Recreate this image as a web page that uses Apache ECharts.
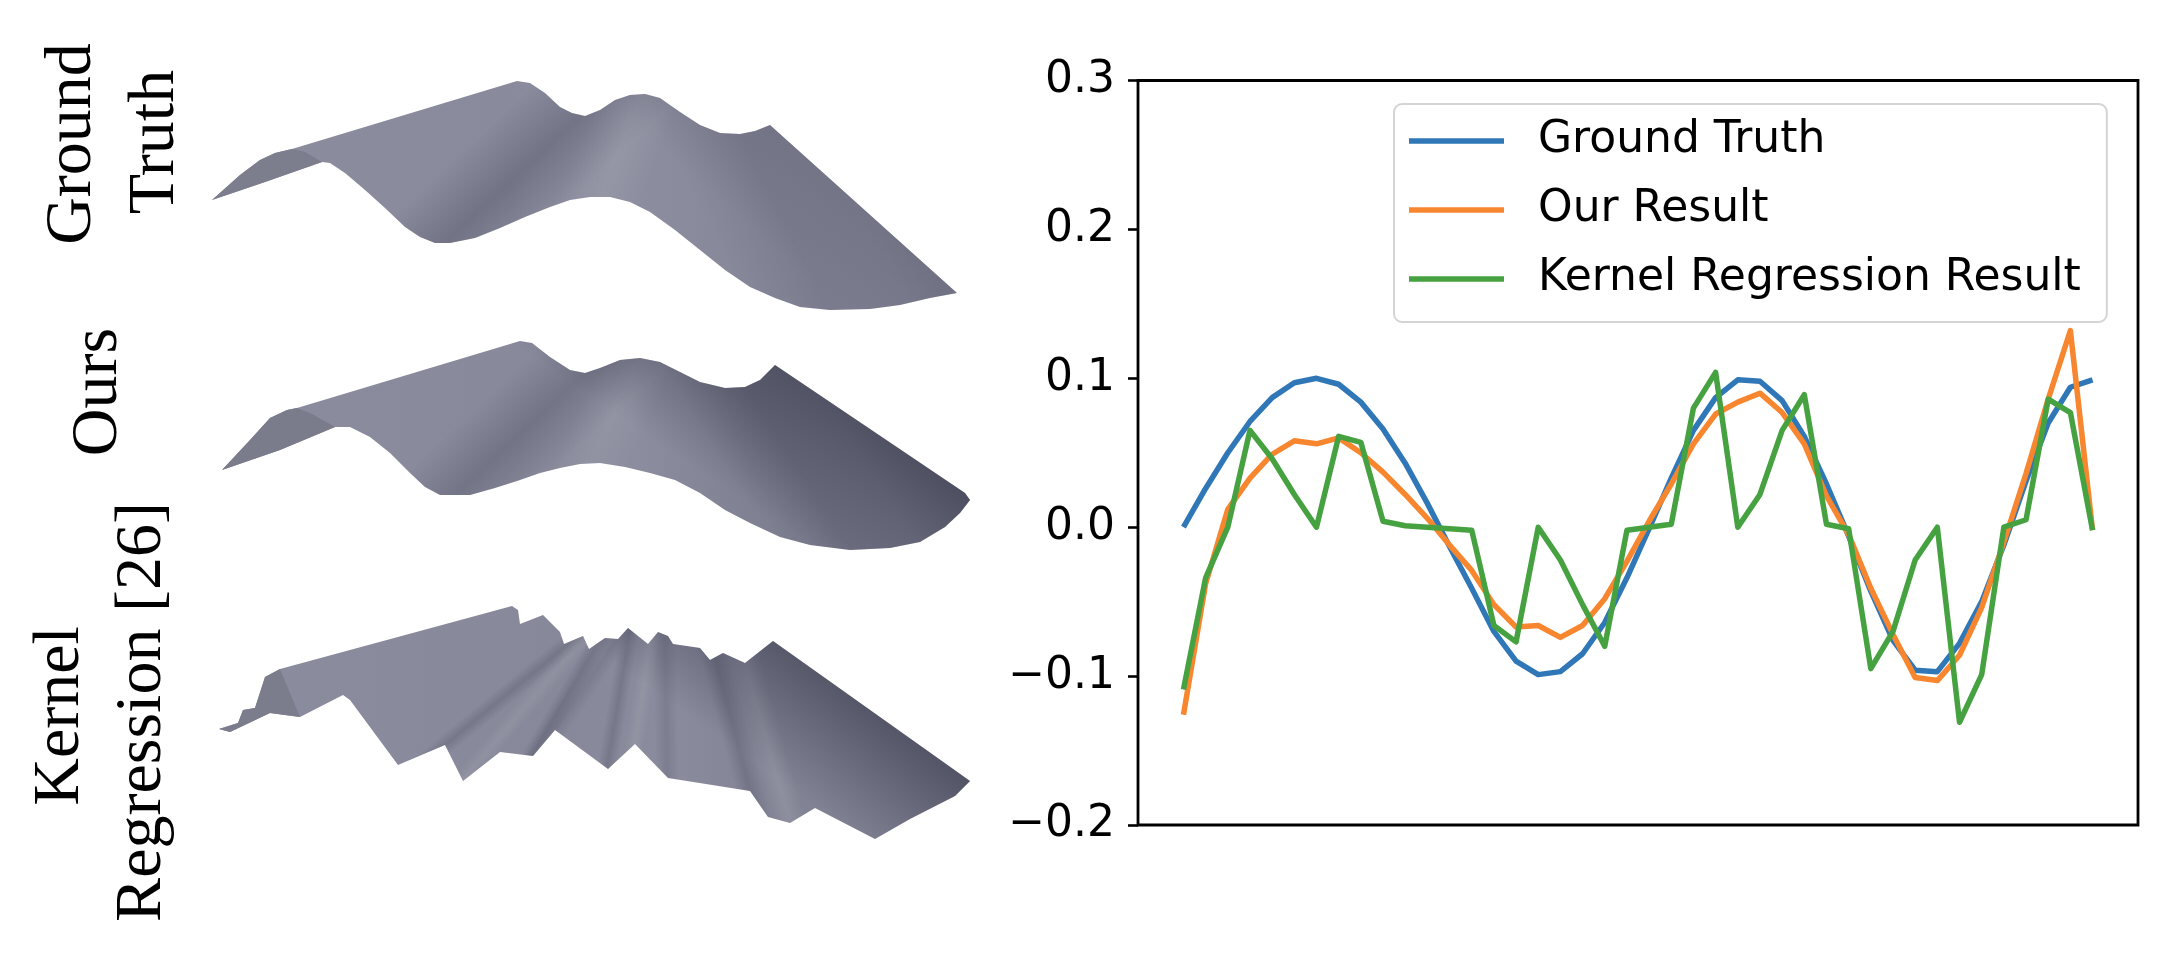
<!DOCTYPE html>
<html>
<head>
<meta charset="utf-8">
<script src="https://cdn.jsdelivr.net/npm/echarts@6/dist/echarts.min.js"></script>
<style>
html,body{margin:0;padding:0;background:#fff;}
#main{width:2181px;height:960px;}
</style>
</head>
<body>
<div id="main"></div>
<script>
// ---------------- DATA ----------------
const sampleIndex = [0,1,2,3,4,5,6,7,8,9,10,11,12,13,14,15,16,17,18,19,20,21,22,23,24,25,26,27,28,29,30,31,32,33,34,35,36,37,38,39,40,41];
const groundTruth = [0.000,0.026,0.050,0.071,0.087,0.097,0.100,0.096,0.084,0.066,0.043,0.016,-0.013,-0.041,-0.070,-0.090,-0.099,-0.097,-0.085,-0.064,-0.034,-0.001,0.033,0.065,0.087,0.099,0.098,0.085,0.061,0.029,-0.006,-0.043,-0.076,-0.096,-0.097,-0.078,-0.050,-0.012,0.031,0.070,0.094,0.099];
const ourResult = [-0.126,-0.038,0.012,0.033,0.049,0.058,0.056,0.060,0.050,0.037,0.022,0.006,-0.012,-0.029,-0.052,-0.067,-0.066,-0.074,-0.066,-0.048,-0.023,0.004,0.029,0.056,0.076,0.084,0.090,0.077,0.056,0.021,-0.005,-0.041,-0.072,-0.101,-0.103,-0.086,-0.054,-0.010,0.036,0.086,0.132,-0.002];
const kernelResult = [-0.109,-0.034,0.000,0.065,0.046,0.022,0.000,0.061,0.057,0.004,0.001,0.000,-0.001,-0.002,-0.066,-0.077,0.000,-0.022,-0.052,-0.080,-0.002,0.000,0.002,0.080,0.104,0.000,0.022,0.065,0.089,0.002,-0.001,-0.095,-0.070,-0.022,0.000,-0.131,-0.099,0.000,0.005,0.086,0.077,-0.002];
const seriesNames = ['Ground Truth','Our Result','Kernel Regression Result'];
const yTicks = [-0.2,-0.1,0.0,0.1,0.2,0.3];
const panelLabels = [['Ground','Truth'],['Ours'],['Kernel','Regression [26]']];

// ---------------- LAYOUT / STYLE (illustration) ----------------
const colors = ['#2f77b6','#f7862f','#46a240'];
const labelLayout = [
  {x:[73,156], y:[144,142]},
  {x:[99], y:[392]},
  {x:[61,143], y:[716,712]}
];
// stripe: [p0, p1, halfWidth, rgb, alpha]
const surfaceLayouts = [
  { // ground truth surface
    outline:[[212,200],[240,175],[260,160],[275,153],[292,149],[517,81],[530,83],[545,93],[560,107],[572,113],[585,116],[600,110],[615,100],[630,95],[645,94],[660,98],[680,112],[700,125],[720,133],[740,134],[755,131],[770,125],[957,293],[930,298],[900,305],[870,309],[830,310],[800,307],[775,298],[750,287],[725,270],[700,250],[675,230],[650,212],[630,202],[610,197],[590,197],[570,200],[550,207],[525,217],[500,228],[475,238],[450,243],[435,243],[420,237],[405,227],[385,208],[365,190],[345,173],[330,163],[322,162],[265,182]],
    grad:[212,0,957,0,[[0,'#8b8c9d'],[0.4,'#898a9b'],[0.55,'#8d8e9f'],[0.75,'#858697'],[1,'#7c7d8e']]],
    faces:[
      {pts:[[212,200],[240,175],[260,160],[275,153],[292,149],[305,152],[322,162],[265,182]], fill:'#7c7d8d'}
    ],
    stripes:[
      [[445,243],[580,116],55,'45,47,68',0.26],
      [[600,197],[640,95],40,'255,255,255',0.07],
      [[830,310],[740,134],70,'45,47,68',0.10],
      [[957,293],[770,125],90,'45,47,68',0.16]
    ]
  },
  { // our surface
    outline:[[222,470],[250,440],[270,418],[287,410],[297,408],[520,341],[532,343],[550,357],[570,370],[585,373],[600,368],[620,360],[640,358],[660,362],[680,372],[700,382],[725,388],[745,387],[760,380],[775,365],[965,493],[970,500],[960,513],[945,527],[920,542],[890,548],[850,550],[810,545],[780,537],[750,523],[725,510],[700,493],[675,480],[650,473],[625,467],[600,463],[580,464],[560,468],[540,473],[520,480],[495,488],[470,495],[440,495],[425,487],[410,473],[390,453],[370,437],[350,427],[335,427],[280,450]],
    grad:[222,0,970,0,[[0,'#8b8c9e'],[0.4,'#88899a'],[0.55,'#8c8d9e'],[0.7,'#808192'],[1,'#737485']]],
    faces:[
      {pts:[[222,470],[250,440],[270,418],[287,410],[297,408],[312,414],[335,427],[280,450]], fill:'#7a7b8b'}
    ],
    stripes:[
      [[455,495],[585,373],50,'45,47,68',0.24],
      [[590,464],[640,358],35,'255,255,255',0.06],
      [[850,550],[745,387],60,'45,47,68',0.14],
      [[965,493],[775,365],130,'35,36,55',0.47]
    ]
  },
  { // kernel regression surface
    outline:[[219,729],[238,723],[243,710],[255,708],[265,677],[280,669],[512,606],[518,610],[520,624],[543,615],[560,632],[564,644],[583,636],[589,649],[605,638],[618,639],[628,628],[648,644],[658,632],[668,636],[673,644],[700,648],[710,660],[723,653],[745,663],[773,641],[970,781],[955,796],[910,819],[875,839],[815,808],[790,823],[768,817],[750,791],[668,778],[635,744],[608,769],[555,730],[533,756],[500,752],[463,781],[445,745],[398,765],[350,700],[343,695],[300,717],[270,713],[230,732]],
    grad:[219,0,970,0,[[0,'#8b8c9e'],[0.45,'#878899'],[0.6,'#8a8b9c'],[0.72,'#838495'],[1,'#7a7b8c']]],
    faces:[
      {pts:[[219,729],[238,723],[243,710],[255,708],[265,677],[280,669],[300,717],[270,713],[230,732]], fill:'#7b7c8c'}
    ],
    stripes:[
      [[445,745],[572,641],10,'45,47,68',0.20],
      [[462,781],[585,637],10,'255,255,255',0.07],
      [[532,755],[595,648],10,'45,47,68',0.22],
      [[555,730],[617,639],12,'45,47,68',0.14],
      [[607,768],[630,631],10,'45,47,68',0.20],
      [[635,743],[650,644],10,'255,255,255',0.08],
      [[667,778],[665,636],12,'45,47,68',0.15],
      [[750,791],[715,658],14,'45,47,68',0.20],
      [[790,823],[745,663],16,'255,255,255',0.10],
      [[970,781],[773,641],110,'35,36,55',0.45]
    ]
  }
];

// ---------------- BUILD ----------------
function lg(g){
  return {type:'linear', x:g[0], y:g[1], x2:g[2], y2:g[3], global:true,
          colorStops:g[4].map(s=>({offset:s[0], color:s[1]}))};
}
function stripeFill(s){
  const p0=s[0], p1=s[1], hw=s[2], c=s[3], a=s[4];
  const dx=p1[0]-p0[0], dy=p1[1]-p0[1], L=Math.hypot(dx,dy);
  const nx=-dy/L, ny=dx/L;
  return {type:'linear', global:true,
    x:p0[0]-nx*hw, y:p0[1]-ny*hw, x2:p0[0]+nx*hw, y2:p0[1]+ny*hw,
    colorStops:[{offset:0,color:'rgba('+c+',0)'},{offset:0.5,color:'rgba('+c+','+a+')'},{offset:1,color:'rgba('+c+',0)'}]};
}
const graphics = [];
surfaceLayouts.forEach(s=>{
  graphics.push({type:'polygon', z:1, silent:true, shape:{points:s.outline}, style:{fill:lg(s.grad)}});
  s.stripes.forEach(st=>graphics.push({type:'polygon', z:2, silent:true, shape:{points:s.outline}, style:{fill:stripeFill(st)}}));
  s.faces.forEach(f=>graphics.push({type:'polygon', z:3, silent:true, shape:{points:f.pts}, style:{fill:f.fill}}));
});
panelLabels.forEach((lines,k)=>{
  lines.forEach((t,j)=>{
    graphics.push({type:'text', z:5, silent:true, x:labelLayout[k].x[j], y:labelLayout[k].y[j], rotation:Math.PI/2,
      style:{text:t, fontFamily:'Liberation Serif', fontSize:66, fill:'#000', textAlign:'center', textVerticalAlign:'middle'}});
  });
});

const allSeries = [groundTruth, ourResult, kernelResult].map((vals,k)=>({
  name: seriesNames[k], type:'line', showSymbol:false, symbol:'none',
  data: sampleIndex.map((x,i)=>[x, vals[i]]),
  lineStyle:{color:colors[k], width:5.5, join:'round'},
  itemStyle:{color:colors[k]}, z: 2+k, silent:true
}));

const chart = echarts.init(document.getElementById('main'), null, {renderer:'canvas'});
chart.setOption({
  animation:false,
  backgroundColor:'#fff',
  grid:{left:1138, top:80.5, right:43, bottom:135, show:true, borderColor:'#000', borderWidth:2.8, backgroundColor:'transparent'},
  xAxis:{type:'value', min:-2.05, max:43.05, axisLine:{show:false, onZero:false}, axisTick:{show:false}, axisLabel:{show:false}, splitLine:{show:false}},
  yAxis:{type:'value', min:yTicks[0], max:yTicks[yTicks.length-1], interval:0.1,
    axisLine:{show:false, onZero:false}, splitLine:{show:false},
    axisTick:{show:true, length:10, lineStyle:{color:'#000', width:2.6}},
    axisLabel:{margin:23, fontFamily:'DejaVu Sans', fontSize:44, color:'#000',
      formatter:v=>{const r=Math.round(v*10)/10; return (r<0?'\u2212':'')+Math.abs(r).toFixed(1);}}},
  legend:{left:1394, top:104, orient:'vertical', data:seriesNames, icon:'rect', itemWidth:95, itemHeight:5.5, itemGap:25,
    padding:[15,26,21,15], backgroundColor:'#fff', borderColor:'#d4d4d4', borderWidth:2, borderRadius:8,
    selectedMode:false,
    textStyle:{fontFamily:'DejaVu Sans', fontSize:44, color:'#000', padding:[0,0,0,29]}},
  series: allSeries,
  graphic:{elements:graphics}
});
</script>
</body>
</html>
